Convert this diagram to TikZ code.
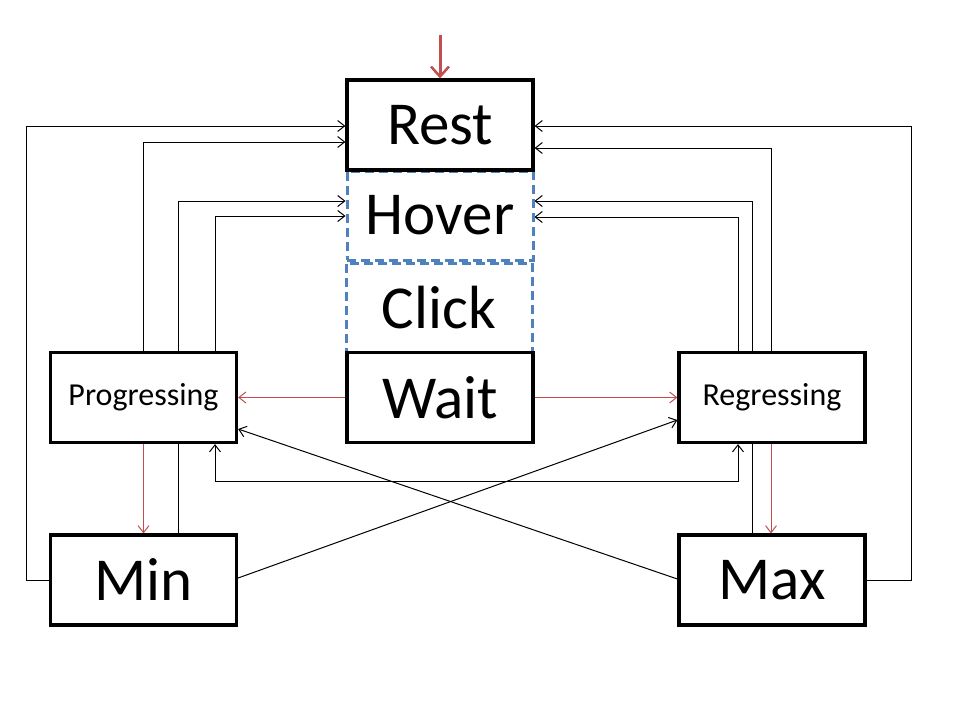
\documentclass[tikz,border=0pt]{standalone}
\usepackage{fontspec}
\setmainfont{Carlito}
\usetikzlibrary{arrows.meta,backgrounds}
\definecolor{dblue}{RGB}{79,129,189}
\definecolor{dred}{RGB}{192,80,77}
\tikzset{
  statebox/.style={draw=black,line width=3.2pt,fill=white,rectangle,inner sep=0pt,
    minimum width=186pt,minimum height=90pt},
  dashbox/.style={draw=dblue,line width=3pt,dash pattern=on 9pt off 5pt,fill=white,rectangle,inner sep=0pt,
    minimum width=186pt,minimum height=89pt},
  big/.style={font=\fontsize{61}{61}\selectfont},
  small/.style={font=\fontsize{32}{32}\selectfont},
  conn/.style={draw=black,line width=1pt,-{Straight Barb[length=7pt,width=11pt,line width=1pt]}},
  redconn/.style={draw=dred,line width=1pt,-{Straight Barb[length=7pt,width=11pt,line width=1pt]}},
  startarrow/.style={draw=dred,line width=3pt,-{Straight Barb[length=10pt,width=18pt,line width=2.5pt]}},
}
\begin{document}
\begin{tikzpicture}[x=1pt,y=-1pt]
\useasboundingbox (0,0) rectangle (960,720);
% dashed boxes
\node[dashbox,big] (hover) at (440,215.5) {Hover};
\node[dashbox,big] (click) at (439,307.5) {Click};
% main boxes
\node[statebox,big] (rest) at (440,125) {Rest};
\node[statebox,big] (wait) at (440,397.5) {Wait};
\node[statebox,small] (prog) at (143.5,397.5) {Progressing};
\node[statebox,small] (reg) at (772,397.5) {Regressing};
\node[statebox,big] (min) at (143.5,580) {Min};
\node[statebox,big] (max) at (772,580) {Max};
\coordinate (start) at (440,35);
\begin{pgfonlayer}{background}
% left side
\draw[conn] (min.west) -- (26,580) |- (rest.west |- 0,126);
\draw[conn] (prog.north) |- (rest.west |- 0,142);
\draw[conn] (min.north -| 178,0) |- (hover.west |- 0,201);
\draw[conn] (prog.north -| 215,0) |- (hover.west |- 0,216);
% right side
\draw[conn] (max.east) -- (911,580) |- (rest.east |- 0,126);
\draw[conn] (reg.north -| 771,0) |- (rest.east |- 0,148);
\draw[conn] (max.north -| 752,0) |- (hover.east |- 0,201);
\draw[conn] (reg.north -| 738,0) |- (hover.east |- 0,217);
% bottom bidirectional
\draw[conn,{Straight Barb[length=7pt,width=11pt,line width=1pt]}-{Straight Barb[length=7pt,width=11pt,line width=1pt]}]
  (prog.south -| 215,0) -- (215,481) -- (738,481) -- (reg.south -| 738,0);
% diagonals
\draw[conn] (max.west |- 0,579) -- (prog.east |- 0,429);
\draw[conn] (min.east |- 0,578) -- (reg.west |- 0,420);
% red
\draw[redconn] (wait.west) -- (prog.east);
\draw[redconn] (wait.east) -- (reg.west);
\draw[redconn] (prog.south) -- (min.north);
\draw[redconn] (reg.south -| 771,0) -- (max.north -| 771,0);
\end{pgfonlayer}
\draw[startarrow] (start) -- (rest.north);
\end{tikzpicture}
\end{document}
